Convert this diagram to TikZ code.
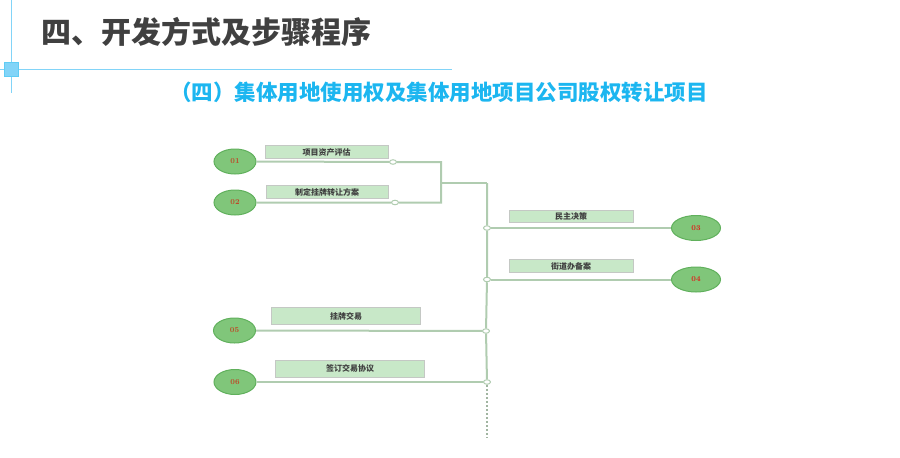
\documentclass[tikz,border=0pt]{standalone}
\usepackage{fontspec}
\newfontfamily\cjk{Noto Sans CJK SC}
\usetikzlibrary{shapes.geometric}
\definecolor{titlegray}{RGB}{64,64,64}
\definecolor{subblue}{RGB}{28,182,240}
\definecolor{decoblue}{RGB}{130,212,248}
\definecolor{linegreen}{RGB}{176,204,176}
\definecolor{boxgreen}{RGB}{200,232,200}
\definecolor{boxedge}{RGB}{196,200,196}
\definecolor{ovalgreen}{RGB}{128,198,122}
\definecolor{ovaledge}{RGB}{96,176,92}
\definecolor{numbrown}{RGB}{190,72,40}
\definecolor{numred}{RGB}{224,30,26}

\begin{document}
\begin{tikzpicture}[x=1pt, y=-1pt,
	oval/.style={ellipse, draw=ovaledge, line width=1pt, fill=ovalgreen, minimum width=42pt, minimum height=25pt, inner sep=0pt, font=\fontsize{7.5}{8}\selectfont\bfseries},
	label box/.style={rectangle, draw=boxedge, line width=0.8pt, fill=boxgreen, minimum height=12.5pt, inner sep=0pt, text=titlegray, font=\cjk\fontsize{8}{9}\selectfont\bfseries},
	knot/.style={ellipse, draw=linegreen, line width=1pt, fill=white, minimum width=7pt, minimum height=4.5pt, inner sep=0pt},
	link/.style={draw=linegreen, line width=2pt}]
			%%%%% START %%%%%
			
			\useasboundingbox (0,0) rectangle (900,458);
			
			% heading
			\draw[decoblue, line width=0.8pt] (11,0) -- (11,93);
			\draw[decoblue, line width=0.8pt] (0,69) -- (452,69);
			\draw[fill=decoblue, draw=subblue!70, line width=0.6pt] (4,62) rectangle (18,76);
			\node[anchor=west, text=titlegray, font=\cjk\fontsize{30}{32}\selectfont\bfseries] (title) at (38,32) {四、开发方式及步骤程序};
			\node[text=subblue, font=\cjk\fontsize{21.5}{24}\selectfont\bfseries] (subtitle) at (439,92) {（四）集体用地使用权及集体用地项目公司股权转让项目};
			
			% left pair with bracket
			\node[oval, text=numbrown] (o1) at (235,161.5) {01};
			\node[oval, text=numbrown] (o2) at (235,202.5) {02};
			\node[label box, minimum width=123pt] (b1) at (326.5,152) {项目资产评估};
			\node[label box, minimum width=122pt] (b2) at (327,192) {制定挂牌转让方案};
			\node[knot] (k1) at (393,162) {};
			\node[knot] (k2) at (395,202.5) {};
			\coordinate (c1) at (441,162);
			\coordinate (c2) at (441,202.5);
			\coordinate (cm) at (441,183);
			\coordinate (top) at (487,183);
			
			\draw[link] (o1.east) -- (k1) -- (c1) -- (c2) -- (k2) -- (o2.east);
			\draw[link] (cm) -- (top);
			
			% spine
			\node[knot] (k3) at (487,228) {};
			\node[knot] (k4) at (487,279.5) {};
			\node[knot] (k5) at (486,331) {};
			\node[knot] (k6) at (487,382) {};
			\coordinate (bottom) at (487,437);
			
			\draw[link] (top) -- (k3) -- (k4) -- (k5) -- (k6);
			\draw[linegreen!70!gray, line width=2pt, dash pattern=on 2.5pt off 1.5pt] (k6) -- (bottom);
			
			% right steps
			\node[oval, text=numred, minimum width=49pt] (o3) at (696,228) {03};
			\node[oval, text=numred, minimum width=49pt] (o4) at (696,279.5) {04};
			\node[label box, minimum width=124pt] (b3) at (571,216.5) {民主决策};
			\node[label box, minimum width=124pt] (b4) at (571,266) {街道办备案};
			
			\draw[link] (k3) -- (o3.west);
			\draw[link] (k4) -- (o4.west);
			
			% lower left steps
			\node[oval, text=numbrown] (o5) at (234.5,330.5) {05};
			\node[oval, text=numbrown] (o6) at (235,382) {06};
			\node[label box, minimum width=149pt, minimum height=17pt] (b5) at (346,316) {挂牌交易};
			\node[label box, minimum width=149pt, minimum height=17pt] (b6) at (350,368.5) {签订交易协议};
			
			\draw[link] (o5.east) -- (k5);
			\draw[link] (o6.east) -- (k6);
			
			%%%%% END %%%%%
\end{tikzpicture}
\end{document}
